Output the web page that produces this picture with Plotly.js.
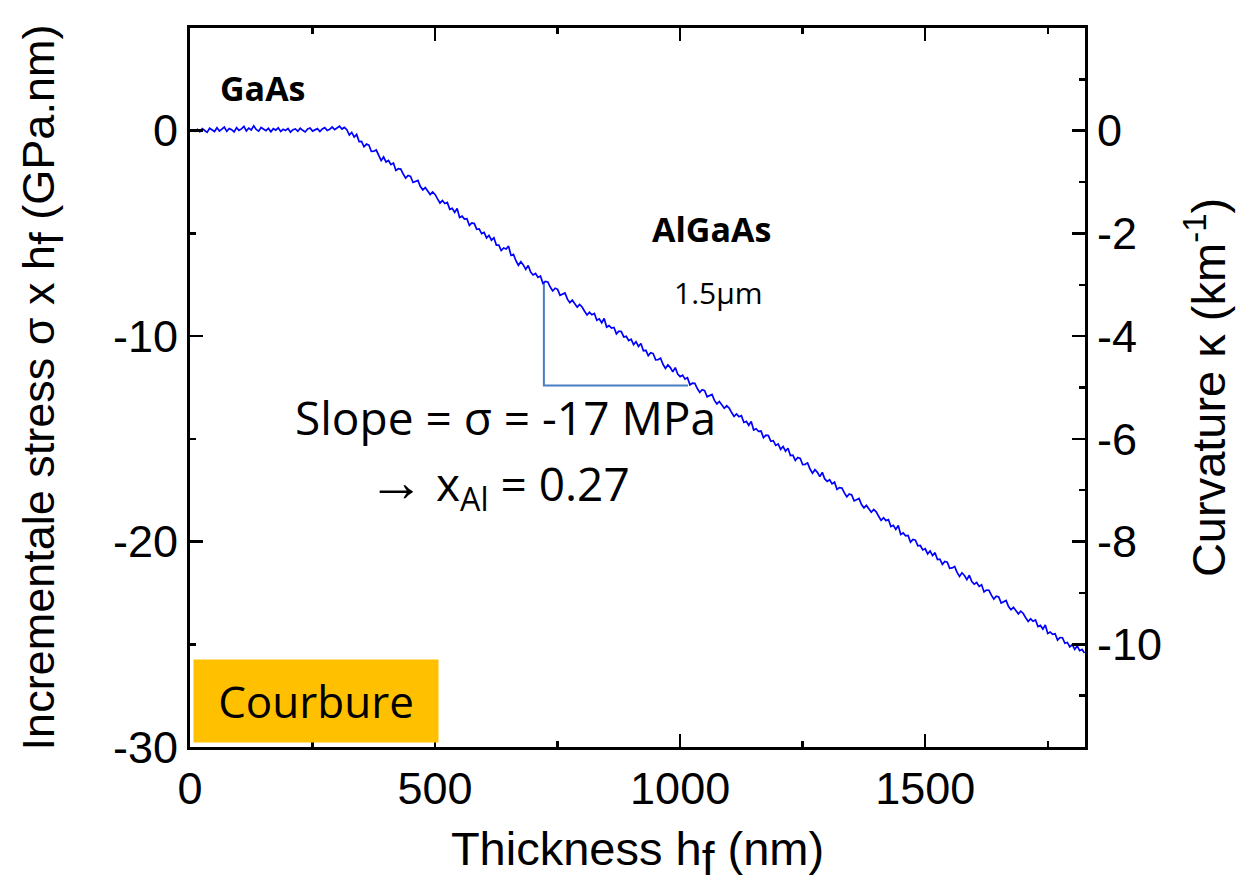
<!DOCTYPE html>
<html>
<head>
<meta charset="utf-8">
<script src="https://cdn.plot.ly/plotly-3.0.1.min.js"></script>
<style>html,body{margin:0;padding:0;background:#fff;}#chart{width:1236px;height:885px;}</style>
</head>
<body>
<div id="chart"></div>
<script>
// Thickness sampled every 5 nm starting at 0 nm
const thicknessStart = 0;
const thicknessStep = 5;
// Incremental stress x thickness (GPa.nm) (noisy trace)
const stressHf = [
  // 0 - 315 nm : GaAs, flat
  0.00, 0.02, -0.03, 0.06, -0.05, 0.10, 0.01, -0.08, 0.12, 0.03,
  -0.04, 0.14, -0.02, 0.08, 0.18, -0.03, 0.11, 0.05, -0.06, 0.15,
  0.02, 0.09, 0.21, -0.01, 0.13, 0.04, 0.24, 0.06, -0.02, 0.16,
  0.08, 0.00, 0.12, -0.05, 0.10, 0.03, 0.14, -0.04, 0.07, 0.01,
  0.11, -0.07, 0.05, 0.09, -0.03, 0.12, 0.02, -0.06, 0.08, 0.13,
  -0.02, 0.06, 0.10, -0.04, 0.09, 0.15, 0.01, 0.07, 0.18, 0.05,
  0.12, 0.22, 0.08, 0.16,
  // 320 - 395 nm
  0.05, -0.21, -0.08, -0.31, -0.18, -0.53, -0.52, -0.78, -0.65, -0.70,
  -1.01, -1.00, -0.94, -1.24, -1.45, -1.28,
  // 400 - 495 nm
  -1.52, -1.45, -1.65, -1.57, -1.93, -1.85, -1.87, -2.11, -2.31, -2.18,
  -2.23, -2.52, -2.48, -2.42, -2.72, -2.88, -2.77, -2.93, -3.11, -2.98,
  // 500 - 595 nm
  -3.10, -3.32, -3.52, -3.40, -3.54, -3.49, -3.83, -3.78, -3.98, -3.79,
  -4.22, -4.16, -4.30, -4.28, -4.61, -4.49, -4.52, -4.80, -4.78, -5.01,
  // 600 - 695 nm
  -4.95, -5.22, -5.10, -5.33, -5.21, -5.57, -5.57, -5.83, -5.71, -5.76,
  -5.62, -6.07, -6.02, -6.33, -6.55, -6.38, -6.53, -6.75, -6.56, -6.88,
  // 700 - 795 nm
  -7.02, -6.95, -7.14, -7.07, -7.43, -7.34, -7.36, -7.61, -7.80, -7.67,
  -7.72, -8.01, -7.97, -7.90, -8.20, -8.37, -8.25, -8.41, -8.59, -8.46,
  // 800 - 895 nm
  -8.58, -8.79, -8.97, -8.84, -8.96, -8.90, -9.23, -9.16, -9.35, -9.14,
  -9.56, -9.49, -9.61, -9.58, -9.89, -9.76, -9.78, -10.04, -10.01, -10.22,
  // 900 - 995 nm
  -10.15, -10.41, -10.27, -10.50, -10.36, -10.71, -10.69, -10.95, -10.81, -10.85,
  -11.15, -11.14, -11.07, -11.37, -11.57, -11.40, -11.53, -11.74, -11.53, -11.85,
  // 1000 - 1095 nm
  -11.97, -11.90, -12.09, -12.02, -12.37, -12.29, -12.30, -12.55, -12.74, -12.61,
  -12.65, -12.95, -12.90, -12.84, -13.13, -13.30, -13.18, -13.34, -13.51, -13.39,
  // 1100 - 1195 nm
  -13.50, -13.72, -13.91, -13.79, -13.92, -13.87, -14.20, -14.15, -14.34, -14.15,
  -14.57, -14.51, -14.64, -14.62, -14.94, -14.82, -14.84, -15.12, -15.09, -15.32,
  // 1200 - 1295 nm
  -15.25, -15.51, -15.37, -15.60, -15.46, -15.81, -15.79, -16.05, -15.91, -15.95,
  -16.25, -16.24, -16.17, -16.47, -16.67, -16.50, -16.63, -16.84, -16.63, -16.95,
  // 1300 - 1395 nm
  -17.07, -16.99, -17.19, -17.11, -17.46, -17.37, -17.39, -17.63, -17.82, -17.68,
  -17.73, -18.02, -17.97, -17.90, -18.20, -18.36, -18.24, -18.39, -18.57, -18.44,
  // 1400 - 1495 nm
  -18.55, -18.77, -18.97, -18.84, -18.98, -18.93, -19.27, -19.21, -19.41, -19.22,
  -19.65, -19.58, -19.72, -19.70, -20.03, -19.90, -19.93, -20.21, -20.19, -20.41,
  // 1500 - 1595 nm
  -20.35, -20.60, -20.46, -20.68, -20.54, -20.88, -20.86, -21.11, -20.97, -21.00,
  -21.30, -21.28, -21.21, -21.50, -21.70, -21.52, -21.65, -21.85, -21.64, -21.95,
  // 1600 - 1695 nm
  -22.07, -21.99, -22.18, -22.10, -22.45, -22.36, -22.37, -22.61, -22.80, -22.66,
  -22.70, -22.99, -22.94, -22.87, -23.16, -23.32, -23.20, -23.35, -23.52, -23.39,
  // 1700 - 1795 nm
  -23.50, -23.71, -23.89, -23.76, -23.88, -23.82, -24.14, -24.08, -24.26, -24.06,
  -24.47, -24.40, -24.52, -24.49, -24.80, -24.67, -24.68, -24.95, -24.91, -25.13,
  // 1800 - 1825 nm
  -25.02, -25.25, -25.08, -25.31, -25.25, -25.43
];
// Slope triangle drawn on the curve (nm, GPa.nm)
const slopeX = [722, 722, 1016];
const slopeY = [-7.35, -12.4, -12.4];
// Tick values and labels
const xTicks = [0, 500, 1000, 1500];
const yTicks = [-30, -20, -10, 0];
const y2Ticks = [-10, -8, -6, -4, -2, 0];
const yTickText = yTicks.map(String);
const y2TickText = y2Ticks.map(String);

const FONT = "Liberation Sans, Arial, sans-serif";
const TXT = "Open Sans, Noto Sans, sans-serif";
const F_LOW = '<sub><span style="font-size:46px">f</span></sub>';
const TICK = 45;

const traces = [
  {x: slopeX, y: slopeY, mode: 'lines', line: {color: '#4a7ec4', width: 2}, hoverinfo: 'skip', showlegend: false},
  {x0: thicknessStart, dx: thicknessStep, y: stressHf, mode: 'lines', line: {color: '#0000ff', width: 1.7}, showlegend: false},
  {x: [], y: [], yaxis: 'y2', showlegend: false}
];

const layout = {
  width: 1236, height: 885,
  margin: {l: 190, r: 151, t: 28, b: 138},
  paper_bgcolor: '#ffffff', plot_bgcolor: '#ffffff',
  showlegend: false,
  xaxis: {
    range: [0, 1826], tickvals: xTicks, ticks: 'inside', ticklen: 13, tickwidth: 2.5,
    tickcolor: '#000', showline: true, linewidth: 3, linecolor: '#000', mirror: 'ticks',
    showgrid: false, zeroline: false,
    tickfont: {family: FONT, size: TICK, color: '#000'},
    minor: {dtick: 250, tick0: 0, ticks: 'inside', ticklen: 6, tickwidth: 2.5, tickcolor: '#000', showgrid: false},
    title: {text: 'Thickness h' + F_LOW + ' (nm)', font: {family: FONT, size: 47, color: '#000'}, standoff: 26}
  },
  yaxis: {
    range: [-30, 5], tickvals: yTicks, ticktext: yTickText, ticks: 'inside', ticklen: 13, tickwidth: 2.5,
    tickcolor: '#000', showline: true, linewidth: 3, linecolor: '#000', mirror: false,
    showgrid: false, zeroline: false,
    tickfont: {family: FONT, size: TICK, color: '#000'},
    minor: {dtick: 5, tick0: 0, ticks: 'inside', ticklen: 6, tickwidth: 2.5, tickcolor: '#000', showgrid: false},
    title: {text: 'Incrementale stress σ x h' + F_LOW + ' (GPa.nm)', font: {family: FONT, size: 45, color: '#000'}, standoff: 45}
  },
  yaxis2: {
    overlaying: 'y', side: 'right', anchor: 'x',
    range: [-12, 2], tickvals: y2Ticks, ticktext: y2TickText, ticks: 'inside', ticklen: 13, tickwidth: 2.5,
    tickcolor: '#000', showline: true, linewidth: 3, linecolor: '#000',
    showgrid: false, zeroline: false,
    tickfont: {family: FONT, size: TICK, color: '#000'},
    minor: {dtick: 1, tick0: 0, ticks: 'inside', ticklen: 6, tickwidth: 2.5, tickcolor: '#000', showgrid: false},
    title: {text: 'Curvature κ (km<sup>-1</sup>)', font: {family: FONT, size: 47, color: '#000'}, standoff: 32}
  },
  annotations: [
    {text: '<b>GaAs</b>', xref: 'x', yref: 'y', x: 149, y: 2.1, showarrow: false,
     font: {family: TXT, size: 34, color: '#000'}},
    {text: '<b>AlGaAs</b>', xref: 'x', yref: 'y', x: 1063, y: -4.76, showarrow: false,
     font: {family: TXT, size: 34, color: '#000'}},
    {text: '1.5μm', xref: 'x', yref: 'y', x: 1078, y: -7.86, showarrow: false,
     font: {family: TXT, size: 30, color: '#000'}},
    {text: 'Slope = σ = -17 MPa', xref: 'x', yref: 'y', x: 643, y: -13.95, showarrow: false,
     font: {family: TXT, size: 46, color: '#000'}},
    {text: '<span style="font-size:56px">→</span> x<sub>Al</sub> = 0.27', xref: 'x', yref: 'y', x: 630, y: -17.05, showarrow: false,
     font: {family: TXT, size: 46, color: '#000'}},
    {text: 'Courbure', xref: 'paper', yref: 'paper', x: 0.0035, y: 0.005, xanchor: 'left', yanchor: 'bottom',
     width: 240, height: 78, align: 'center', valign: 'middle', bgcolor: '#ffc000', borderpad: 2, showarrow: false,
     font: {family: TXT, size: 44, color: '#000'}}
  ]
};

Plotly.newPlot('chart', traces, layout, {displayModeBar: false, staticPlot: true});
</script>
</body>
</html>
